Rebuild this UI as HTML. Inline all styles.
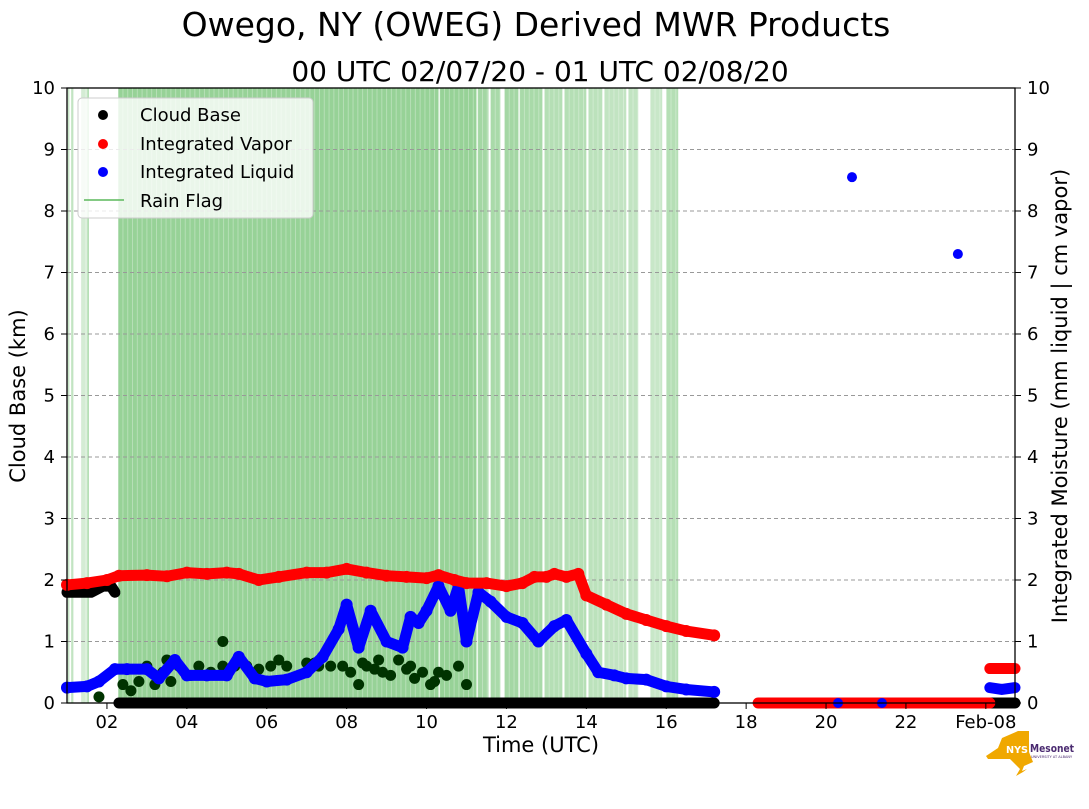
<!DOCTYPE html>
<html><head><meta charset="utf-8"><style>
body{margin:0;background:#fff;font-family:"Liberation Sans","DejaVu Sans",sans-serif;}
svg text{font-family:"DejaVu Sans","Liberation Sans",sans-serif;}
</style></head><body>
<svg id="chart" width="1089" height="804" xmlns="http://www.w3.org/2000/svg">
<text x="536" y="36" font-size="33" text-anchor="middle">Owego, NY (OWEG) Derived MWR Products</text>
<text x="540" y="81" font-size="28" text-anchor="middle">00 UTC 02/07/20 - 01 UTC 02/08/20</text>
<g id="rain"></g>
<g id="grid"></g>
<g id="marks"></g>
<rect x="67" y="88" width="948" height="615" fill="none" stroke="#000" stroke-width="1.3"/>
<g id="axes"></g>
<text x="25" y="396" font-size="21" text-anchor="middle" transform="rotate(-90 25 396)">Cloud Base (km)</text>
<text x="1067" y="396" font-size="21" text-anchor="middle" transform="rotate(-90 1067 396)">Integrated Moisture (mm liquid | cm vapor)</text>
<text x="541" y="752" font-size="21" text-anchor="middle">Time (UTC)</text>
<g>
<rect x="78" y="98" width="235" height="120" rx="4" fill="#fff" fill-opacity="0.8" stroke="#ccc"/>
<circle cx="103" cy="115" r="5" fill="#000"/>
<text x="140" y="121" font-size="18">Cloud Base</text>
<circle cx="103" cy="144" r="5" fill="#f00"/>
<text x="140" y="150" font-size="18">Integrated Vapor</text>
<circle cx="103" cy="172" r="5" fill="#00f"/>
<text x="140" y="178" font-size="18">Integrated Liquid</text>
<line x1="84" y1="200" x2="124" y2="200" stroke="#5cb85c" stroke-width="1.5"/>
<text x="140" y="207" font-size="18">Rain Flag</text>
</g>
<g>
<path d="M986 756 L998 748 L1002 738 L1018 731 L1029 731 L1029 752 L1033 762 L1024 766 L1022 771 L1027 769 L1023 772 L1016 776 L1020 769 L1010 759 L988 759 Z" fill="#f0a800"/>
<text x="1006" y="753" font-size="10" font-weight="bold" fill="#fff" textLength="22" lengthAdjust="spacingAndGlyphs">NYS</text>
<text x="1030" y="752" font-size="11" font-weight="bold" fill="#4a2a70" textLength="44" lengthAdjust="spacingAndGlyphs">Mesonet</text>
<text x="1031" y="758" font-size="3.5" fill="#4a2a70">UNIVERSITY AT ALBANY</text>
</g>
</svg>
<script>
const xTicks=[2,4,6,8,10,12,14,16,18,20,22,24];
const xTickLabels=["02","04","06","08","10","12","14","16","18","20","22","Feb-08"];
const yTicks=[0,1,2,3,4,5,6,7,8,9,10];
const rainSpans=[[1.02,1.06,0.5],[1.1,1.16,0.5],[1.35,1.5,0.35],[1.5,1.55,0.6],[2.28,10.3,0.85],[10.33,11.25,0.85],[11.28,11.55,0.75],[11.6,11.85,0.7],[11.95,12.3,0.75],[12.33,12.9,0.7],[12.95,13.4,0.6],[13.45,14.0,0.6],[14.05,14.4,0.55],[14.45,15.0,0.5],[15.05,15.3,0.5],[15.6,15.9,0.45],[16.0,16.3,0.6]];
const vapT=[1.0,1.5,2.0,2.3,3.0,3.5,4.0,4.5,5.0,5.3,5.8,6.3,7.0,7.5,8.0,8.5,9.0,9.5,10.0,10.3,10.7,11.0,11.5,12.0,12.4,12.7,13.0,13.2,13.5,13.8,14.0,14.5,15.0,15.5,16.0,16.5,17.2];
const vapV=[1.92,1.95,2.0,2.07,2.08,2.06,2.12,2.1,2.12,2.1,2.0,2.05,2.12,2.12,2.18,2.12,2.07,2.05,2.03,2.08,2.0,1.95,1.95,1.9,1.95,2.05,2.05,2.1,2.05,2.1,1.75,1.6,1.45,1.35,1.25,1.17,1.1];
const vap2T=[18.3,19,20,21,22,23,24.1];
const vap2V=[0,0,0,0,0,0,0];
const vap3T=[24.1,24.4,24.73];
const vap3V=[0.56,0.56,0.56];
const liqT=[1.0,1.5,1.8,2.2,2.5,3.0,3.3,3.7,4.0,4.5,5.0,5.3,5.7,6.0,6.5,7.0,7.4,7.8,8.0,8.3,8.6,9.0,9.4,9.6,9.8,10.0,10.3,10.6,10.8,11.0,11.3,11.6,12.0,12.4,12.8,13.2,13.5,14.0,14.3,14.7,15.0,15.5,16.0,16.5,17.2];
const liqV=[0.25,0.27,0.35,0.55,0.55,0.55,0.4,0.7,0.45,0.45,0.45,0.75,0.4,0.35,0.38,0.5,0.75,1.2,1.6,0.9,1.5,1.0,0.9,1.4,1.3,1.5,1.9,1.5,1.9,1.0,1.8,1.65,1.4,1.3,1.0,1.25,1.35,0.8,0.5,0.45,0.4,0.38,0.27,0.22,0.18];
const liq2T=[24.1,24.4,24.73];
const liq2V=[0.25,0.22,0.25];
const liqOutT=[20.65,23.3,20.3,21.4,18.35];
const liqOutV=[8.55,7.3,0,0,0];
const cbHighT=[1.0,1.3,1.6,1.9,2.1,2.2];
const cbHighV=[1.8,1.8,1.8,1.9,1.9,1.8];
const cbZeroT=[2.3,17.2];
const cbZero2T=[24.0,24.73];
const cbLowT=[1.8,2.4,2.6,2.8,3.0,3.2,3.4,3.6,3.8,4.1,4.3,4.6,4.9,5.2,5.5,5.8,6.1,6.5,7.0,7.3,7.6,7.9,8.1,8.3,8.5,8.7,8.9,9.1,9.3,9.5,9.7,9.9,10.1,10.3,10.5,10.8,11.0,3.5,4.9,6.3,8.4,9.6,10.2,8.8,7.2];
const cbLowV=[0.1,0.3,0.2,0.35,0.6,0.3,0.5,0.35,0.6,0.45,0.6,0.5,1.0,0.6,0.6,0.55,0.6,0.6,0.65,0.6,0.6,0.6,0.5,0.3,0.6,0.55,0.5,0.45,0.7,0.55,0.4,0.5,0.3,0.5,0.45,0.6,0.3,0.7,0.6,0.7,0.65,0.6,0.35,0.7,0.65];
const X0=67,X1=1015,Y0=703,Y1=88,TMIN=1.0,TMAX=24.73;
const xs=t=>X0+(t-TMIN)/(TMAX-TMIN)*(X1-X0);
const ys=v=>Y0-v/10*(Y0-Y1);
const NS="http://www.w3.org/2000/svg";
function mk(tag,attrs,parent){const e=document.createElementNS(NS,tag);for(const k in attrs)e.setAttribute(k,attrs[k]);document.getElementById(parent).appendChild(e);return e;}
rainSpans.forEach(s=>{
 const r=mk('rect',{x:xs(s[0]),y:Y1,width:xs(s[1])-xs(s[0]),height:Y0-Y1,fill:'#5cb85c','fill-opacity':s[2]*0.75},'rain');
 
 
 for(let t=s[0];t<s[1];t+=0.12){const l=mk('line',{x1:xs(t),x2:xs(t),y1:Y1,y2:Y0,stroke:'#fff','stroke-opacity':0.3,'stroke-width':1},'rain');
 
 }
});
yTicks.forEach(v=>{
 if(v>0&&v<10){const g=mk('line',{x1:X0,x2:X1,y1:ys(v),y2:ys(v),stroke:'#999','stroke-dasharray':'4 3','stroke-width':1},'grid');
 
 }
 [[X0,-1],[X1,1]].forEach(([x,d])=>{
  const t=mk('line',{x1:x,x2:x+d*6,y1:ys(v),y2:ys(v),stroke:'#000'},'axes');
  
  
  const tx=mk('text',{x:x+d*12,y:ys(v)+6,'font-size':18,'text-anchor':d<0?'end':'start'},'axes');
  tx.textContent=v;
  
  
 });
});
xTicks.forEach((t,i)=>{
 const l=mk('line',{x1:xs(t),x2:xs(t),y1:Y0,y2:Y0+6,stroke:'#000'},'axes');
 
 
 const tx=mk('text',{x:xs(t),y:Y0+25,'font-size':18,'text-anchor':'middle'},'axes');
 tx.textContent=xTickLabels[i];
 
 
});
function line(T,V,color,name){
 const p=mk('polyline',{points:T.map((t,i)=>xs(t)+','+ys(V[i])).join(' '),fill:'none',stroke:color,'stroke-width':11,'stroke-linecap':'round','stroke-linejoin':'round'},'marks');
 
 
}
function dots(T,V,color,name,r){
 T.forEach((t,i)=>{const c=mk('circle',{cx:xs(t),cy:ys(V[i]),r:r||5.5,fill:color},'marks');
 
 });
}
line(cbHighT,cbHighV,'#000','cloud-base-line');
dots(cbLowT,cbLowV,'#003300','cloud-base-point');
line(cbZeroT,[0,0],'#000','cloud-base-zero');
line(cbZero2T,[0,0],'#000','cloud-base-zero-2');
line(liqT,liqV,'#0000ff','integrated-liquid-line');
dots(liqT,liqV,'#0000ff','integrated-liquid-point',6);
line(liq2T,liq2V,'#0000ff','integrated-liquid-line-2');
dots(liqOutT,liqOutV,'#0000ff','integrated-liquid-point',5);
line(vapT,vapV,'#ff0000','integrated-vapor-line');
dots(vapT,vapV,'#ff0000','integrated-vapor-point',6);
line(vap2T,vap2V,'#ff0000','integrated-vapor-zero');
line(vap3T,vap3V,'#ff0000','integrated-vapor-line-3');
dots([20.3,21.4],[0,0],'#0000ff','integrated-liquid-point',5);
</script>
</body></html>
